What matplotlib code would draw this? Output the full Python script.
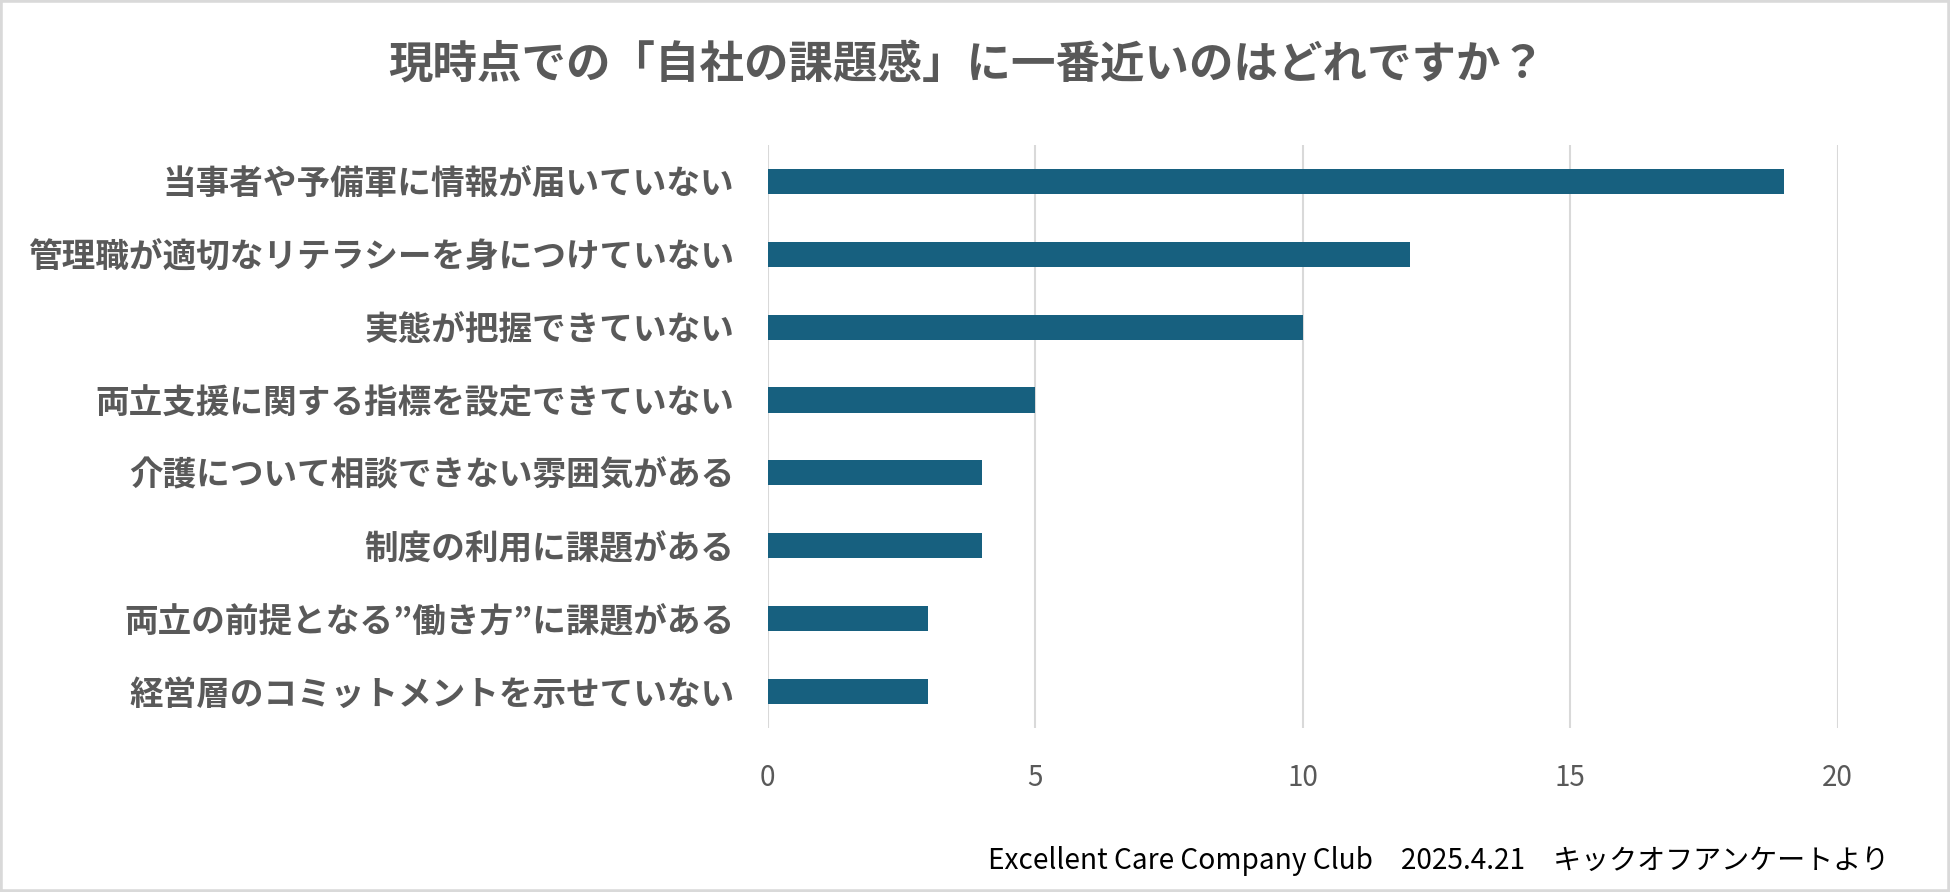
import matplotlib
matplotlib.use("Agg")
import matplotlib.pyplot as plt
from matplotlib.patches import Rectangle

# survey answers (top to bottom) and response counts
categories = [
    "当事者や予備軍に情報が届いていない",
    "管理職が適切なリテラシーを身につけていない",
    "実態が把握できていない",
    "両立支援に関する指標を設定できていない",
    "介護について相談できない雰囲気がある",
    "制度の利用に課題がある",
    "両立の前提となる”働き方”に課題がある",
    "経営層のコミットメントを示せていない",
]
counts = [19, 12, 10, 5, 4, 4, 3, 3]
xticks = [0, 5, 10, 15, 20]

title = "現時点での「自社の課題感」に一番近いのはどれですか？"
footer = "Excellent Care Company Club　2025.4.21　キックオフアンケートより"

JP = ["Noto Sans CJK JP", "DejaVu Sans"]
plt.rcParams["font.family"] = JP

BAR = "#17607F"
GREY_TXT = "#595959"
GRID = "#D9D9D9"

fig = plt.figure(figsize=(19.5, 8.92), dpi=100)
ax = fig.add_axes([0.3937, 0.1839, 0.5487, 0.6536])

ypos = list(range(len(categories)))
ax.barh(ypos, counts, height=0.345, color=BAR, zorder=3)

ax.set_ylim(len(categories) - 0.5, -0.5)
ax.set_xlim(0, 20)
ax.set_xticks(xticks)
ax.set_yticks(ypos)
ax.set_yticklabels(categories, fontsize=24.2, fontweight="bold", color=GREY_TXT)
ax.tick_params(axis="y", length=0, pad=24)
ax.tick_params(axis="x", length=0, pad=25, labelsize=20, labelcolor=GREY_TXT)

ax.grid(axis="x", color=GRID, linewidth=1.5, zorder=0)
for s in ax.spines.values():
    s.set_visible(False)

fig.text(0.4955, 0.927, title, ha="center", va="center", fontsize=32,
         fontweight="bold", color=GREY_TXT)
fig.text(0.9687, 0.026, footer, ha="right", va="baseline", fontsize=20.2,
         color="#000000", family=["Liberation Sans Narrow", "Noto Sans CJK JP"])

fig.patches.append(Rectangle((0, 0), 1, 1, transform=fig.transFigure,
                             fill=False, edgecolor=GRID, linewidth=4))

fig.savefig("out.png", dpi=100, facecolor="white")
